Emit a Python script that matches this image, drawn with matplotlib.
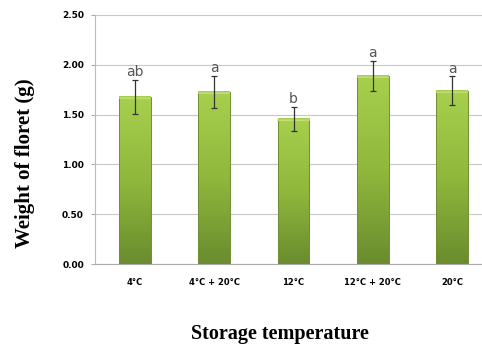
import numpy as np
import matplotlib
matplotlib.use("Agg")
import matplotlib.pyplot as plt
from matplotlib.colors import LinearSegmentedColormap

categories = ["4°C", "4°C + 20°C", "12°C", "12°C + 20°C", "20°C"]
values = [1.68, 1.73, 1.46, 1.89, 1.74]
errors = [0.17, 0.16, 0.12, 0.15, 0.145]
letters = ["ab", "a", "b", "a", "a"]
yticks = [0.0, 0.5, 1.0, 1.5, 2.0, 2.5]

fig = plt.figure(figsize=(4.82, 3.47), dpi=100)
ax = fig.add_axes([95/482, 83/347, 397/482, 249/347])

x = np.arange(len(categories))
width = 0.40
cmap = LinearSegmentedColormap.from_list("g", ["#6a8c2e", "#8fb83c", "#a8d04e"])
grad = np.linspace(0, 1, 256).reshape(-1, 1)

bars = ax.bar(x, values, width=width, color="none", edgecolor="#6f8f32", linewidth=0.7, zorder=3)
for b in bars:
    x0, y0 = b.get_x(), b.get_y()
    w, h = b.get_width(), b.get_height()
    ax.imshow(grad, extent=[x0, x0 + w, y0, y0 + h], origin="lower", cmap=cmap,
              aspect="auto", zorder=2)
    ax.plot([x0 + 0.01, x0 + w - 0.01], [y0 + h - 0.012, y0 + h - 0.012], color="#c4e27a", lw=1.2, zorder=3)

ax.errorbar(x, values, yerr=errors, fmt="none", ecolor="#333333", elinewidth=0.9,
            capsize=2.5, capthick=0.9, zorder=4)
for xi, v, e, l in zip(x, values, errors, letters):
    ax.text(xi, v + e + 0.005, l, ha="center", va="bottom", fontsize=10, color="#555555", zorder=5)

ax.set_xlim(-0.5, 4.5)
ax.set_ylim(0, 2.5)
ax.set_yticks(yticks)
ax.set_yticklabels([f"{t:.2f}" for t in yticks], fontsize=6.5, fontweight="bold")
ax.set_xticks(x)
ax.set_xticklabels(categories, fontsize=6, fontweight="bold")
ax.tick_params(axis="x", length=0, pad=10)
ax.tick_params(axis="y", length=3, color="#aaaaaa", pad=5)
ax.grid(axis="y", color="#c8c8c8", linewidth=0.8, zorder=0)
for s in ["top", "right"]:
    ax.spines[s].set_visible(False)
ax.spines["left"].set_color("#bbbbbb")
ax.spines["bottom"].set_color("#aaaaaa")

fig.text(25/482, 1 - 163/347, "Weight of floret (g)", rotation=90, ha="center", va="center",
         fontsize=15, fontweight="bold", family="Liberation Serif")
fig.text(280/482, 1 - 334/347, "Storage temperature", ha="center", va="center",
         fontsize=14.5, fontweight="bold", family="Liberation Serif")

fig.savefig("out.png", dpi=100)
